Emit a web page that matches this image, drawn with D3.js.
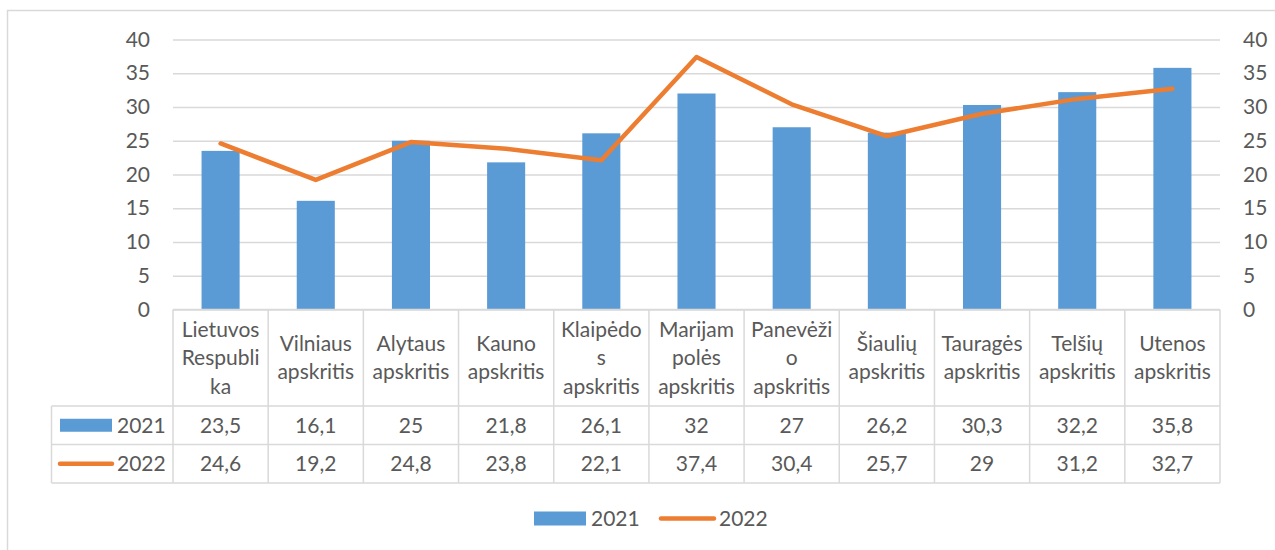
<!DOCTYPE html>
<html><head><meta charset="utf-8">
<script src="https://cdn.jsdelivr.net/npm/d3@7"></script>
<style>
body{margin:0;background:#fff;overflow:hidden}
text{font-family:Lato,"Open Sans",sans-serif;fill:#595959}
</style></head>
<body>
<svg id="chart" width="1275" height="550"></svg>
<script>
const categories = [
  "Lietuvos\nRespubli\nka", "Vilniaus\napskritis", "Alytaus\napskritis", "Kauno\napskritis",
  "Klaipėdo\ns\napskritis", "Marijam\npolės\napskritis", "Panevėži\no\napskritis", "Šiaulių\napskritis",
  "Tauragės\napskritis", "Telšių\napskritis", "Utenos\napskritis"
];
const values2021 = [23.5, 16.1, 25, 21.8, 26.1, 32, 27, 26.2, 30.3, 32.2, 35.8];
const values2022 = [24.6, 19.2, 24.8, 23.8, 22.1, 37.4, 30.4, 25.7, 29, 31.2, 32.7];
const seriesNames = ["2021", "2022"];
const yTicks = [0, 5, 10, 15, 20, 25, 30, 35, 40];

const barColor = "#5B9BD5", lineColor = "#ED7D31", gridColor = "#D9D9D9";
const fontSize = 21;
const fmt = v => String(v).replace(".", ",");

const svg = d3.select("#chart");
const W = 1275, H = 550;
const L = 173, R = 1220, T = 39.5, B = 309.5;
const rowLines = [309.5, 406, 444.5, 483];
const tableLeft = 51.5;

// outer border
svg.append("rect").attr("x", 7.5).attr("y", 10.5).attr("width", W + 10).attr("height", H + 10)
  .attr("fill", "#fff").attr("stroke", gridColor).attr("stroke-width", 1.5);

const x = d3.scaleBand().domain(categories).range([L, R]).paddingInner(0).paddingOuter(0);
const y = d3.scaleLinear().domain([0, 40]).range([B, T]);
const bw = x.bandwidth();

// gridlines
const grid = svg.append("g").attr("transform", `translate(${L},0)`)
  .call(d3.axisLeft(y).tickValues(yTicks).tickSize(-(R - L)).tickFormat(""));
grid.select(".domain").remove();
grid.selectAll("line").attr("stroke", gridColor).attr("stroke-width", 1.5);

// left axis labels
const yl = svg.append("g").attr("transform", `translate(${L},0)`)
  .call(d3.axisLeft(y).tickValues(yTicks).tickSize(0).tickPadding(23));
yl.select(".domain").remove();
yl.selectAll("text").style("font-size", fontSize + "px").attr("fill", "#595959");

// right axis labels
const yr = svg.append("g").attr("transform", `translate(${R},0)`)
  .call(d3.axisRight(y).tickValues(yTicks).tickSize(0).tickPadding(23));
yr.select(".domain").remove();
yr.selectAll("text").style("font-size", fontSize + "px").attr("fill", "#595959");

// bars
svg.append("g").selectAll("rect").data(categories).join("rect")
  .attr("x", c => x(c) + bw * 0.3)
  .attr("width", bw * 0.4)
  .attr("y", (c, i) => y(values2021[i]))
  .attr("height", (c, i) => y(0) - y(values2021[i]))
  .attr("fill", barColor);

// line
const line = d3.line().x((d, i) => x(categories[i]) + bw / 2).y(d => y(d));
svg.append("path").datum(values2022).attr("d", line)
  .attr("fill", "none").attr("stroke", lineColor).attr("stroke-width", 4.5)
  .attr("stroke-linecap", "round").attr("stroke-linejoin", "round");

// data table
const tg = svg.append("g").attr("stroke", gridColor).attr("stroke-width", 1.5);
tg.append("line").attr("x1", L).attr("x2", R).attr("y1", rowLines[0]).attr("y2", rowLines[0]);
rowLines.slice(1).forEach(ry => {
  tg.append("line").attr("x1", tableLeft).attr("x2", R).attr("y1", ry).attr("y2", ry);
});
tg.append("line").attr("x1", tableLeft).attr("x2", tableLeft).attr("y1", rowLines[1]).attr("y2", rowLines[3]);
[...categories.map(c => x(c)), R].forEach(vx => {
  tg.append("line").attr("x1", vx).attr("x2", vx).attr("y1", rowLines[0]).attr("y2", rowLines[3]);
});

// category labels
const lineH = 28.5;
categories.forEach(c => {
  const lines = c.split("\n");
  const cy = (rowLines[0] + rowLines[1]) / 2;
  const t = svg.append("text").attr("text-anchor", "middle")
    .style("font-size", fontSize + "px");
  lines.forEach((ln, j) => {
    t.append("tspan").attr("x", x(c) + bw / 2)
      .attr("y", cy + (j - (lines.length - 1) / 2) * lineH)
      .attr("dy", "0.35em").text(ln);
  });
});

// values rows
[values2021, values2022].forEach((vals, r) => {
  const cy = (rowLines[r + 1] + rowLines[r + 2]) / 2;
  svg.append("g").selectAll("text").data(vals).join("text")
    .attr("x", (d, i) => x(categories[i]) + bw / 2)
    .attr("y", cy).attr("dy", "0.35em").attr("text-anchor", "middle")
    .style("font-size", fontSize + "px").text(d => fmt(d));
});

// table legend keys
const k1y = (rowLines[1] + rowLines[2]) / 2, k2y = (rowLines[2] + rowLines[3]) / 2;
svg.append("rect").attr("x", 60).attr("y", k1y - 6.5).attr("width", 52).attr("height", 13).attr("fill", barColor);
svg.append("line").attr("x1", 60).attr("x2", 112).attr("y1", k2y).attr("y2", k2y)
  .attr("stroke", lineColor).attr("stroke-width", 4.5).attr("stroke-linecap", "round");
svg.append("text").attr("x", 117).attr("y", k1y).attr("dy", "0.35em").style("font-size", fontSize + "px").text(seriesNames[0]);
svg.append("text").attr("x", 117).attr("y", k2y).attr("dy", "0.35em").style("font-size", fontSize + "px").text(seriesNames[1]);

// bottom legend
const ly = 518.5;
svg.append("rect").attr("x", 534).attr("y", ly - 7).attr("width", 52).attr("height", 14).attr("fill", barColor);
svg.append("text").attr("x", 591).attr("y", ly).attr("dy", "0.35em").style("font-size", fontSize + "px").text(seriesNames[0]);
svg.append("line").attr("x1", 661).attr("x2", 714).attr("y1", ly).attr("y2", ly)
  .attr("stroke", lineColor).attr("stroke-width", 4.5).attr("stroke-linecap", "round");
svg.append("text").attr("x", 719).attr("y", ly).attr("dy", "0.35em").style("font-size", fontSize + "px").text(seriesNames[1]);
</script>
</body></html>
